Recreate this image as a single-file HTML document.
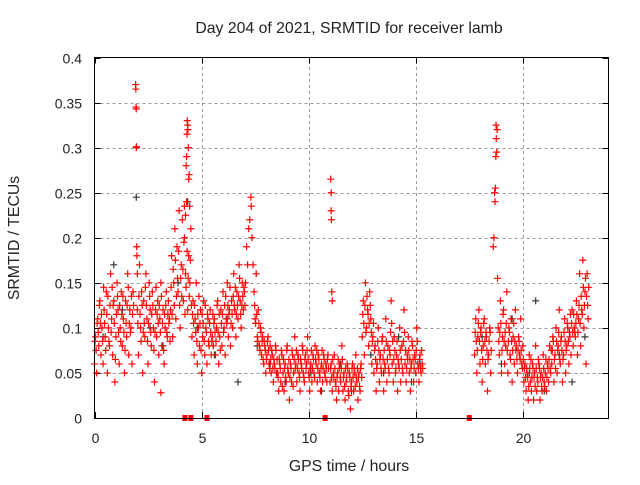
<!DOCTYPE html>
<html><head><meta charset="utf-8"><style>
html,body{margin:0;padding:0;background:#fff;}
svg text{font-family:"Liberation Sans",sans-serif;fill:#222;}
</style></head><body>
<svg id="chart" width="640" height="480">
<text x="349" y="33" font-size="15.8" text-anchor="middle">Day 204 of 2021, SRMTID for receiver lamb</text>
<text x="0" y="0" font-size="15.8" text-anchor="middle" transform="translate(19,238) rotate(-90)">SRMTID / TECUs</text>
<text x="349" y="471" font-size="15.8" text-anchor="middle">GPS time / hours</text>
<g id="grid"></g>
<g id="ticks"></g>
<g id="marks"></g>
<rect x="94.5" y="57.5" width="514" height="361" fill="none" stroke="#000" stroke-width="1"/>
</svg>
<script>
const xTicks=[0,5,10,15,20];
const yTicks=[0,0.05,0.1,0.15,0.2,0.25,0.3,0.35,0.4];
const yTickLabels=["0","0.05","0.1","0.15","0.2","0.25","0.3","0.35","0.4"];
const segStarts=[0,2.0,3.55,4.55,5.55,7.45,8.55,11.0,12.5,13.05,17.75,18.85,20.05,21.35,22.45];
const segValues=[
[.06,.09,.05,.11,.08,.13,.07,.10,.06,.12,.09,.14,.05,.10,.08,.16,.11,.07,.13,.04,.09,.15,.12,.06,.10,.14,.08,.11,.05,.13,.09,.16,.07,.12,.10,.06,.14],
[.12,.07,.17,.10,.14,.05,.13,.09,.16,.11,.06,.15,.12,.08,.14,.10,.04,.12,.09,.13,.07,.11,.15,.08,.12,.06,.10,.14,.09,.13,.11],
[.12,.18,.09,.15,.21,.11,.19,.14,.23,.10,.17,.22,.13,.20,.16,.24,.12,.18,.15,.21],
[.09,.13,.07,.11,.15,.06,.10,.08,.12,.05,.09,.13,.07,.10,.06,.11,.08,.12,.07,.09],
[.08,.11,.07,.10,.13,.06,.09,.12,.08,.14,.10,.07,.11,.15,.09,.12,.08,.13,.10,.16,.12,.09,.14,.11,.17,.13,.10,.15,.12,.14],
[.14,.11,.16,.09,.12,.08,.10,.07,.09,.06,.08,.05,.07,.09,.06,.08,.05,.07,.04,.06,.08,.05],
[.05,.03,.06,.04,.07,.05,.03,.06,.04,.08,.05,.02,.06,.04,.07,.05,.09,.06,.04,.07,.05,.03,.06,.08,.05,.04,.07,.06,.09,.05,.03,.06,.04,.07,.05,.08,.06,.04,.07,.05,.03,.06,.04,.07,.05,.06,.04,.07],
[.04,.06,.03,.05,.07,.04,.02,.05,.03,.06,.04,.08,.03,.05,.02,.04,.06,.03,.05,.01,.04,.06,.03,.05,.07,.04,.02,.05,.03,.06],
[.09,.13,.07,.15,.10,.12,.08,.14,.11,.06,.09],
[.05,.08,.03,.06,.10,.04,.07,.05,.09,.03,.06,.11,.04,.08,.05,.07,.13,.06,.04,.09,.05,.07,.03,.06,.10,.04,.08,.05,.12,.06,.04,.07,.09,.05,.03,.06,.08,.04,.07,.05,.10,.06,.04,.07,.05,.06],
[.07,.11,.05,.09,.12,.06,.10,.04,.08,.11,.06,.09,.03,.07,.10,.05],
[.10,.07,.13,.05,.09,.12,.06,.08,.14,.05,.10,.07,.11,.04,.09,.06,.12,.08,.05,.09,.07,.11,.06,.08],
[.04,.06,.03,.05,.02,.07,.04,.03,.06,.02,.05,.08,.03,.04,.06,.02,.05,.03,.07,.04,.05,.03,.06,.04,.08,.05],
[.06,.09,.04,.07,.10,.05,.08,.12,.06,.09,.04,.07,.11,.05,.08,.10,.06,.09,.07,.12,.08,.10],
[.09,.13,.07,.11,.16,.08,.12,.175,.10,.14,.06,.16,.11]
];
const segValues2=[
[.085,.075,.105,.095,.125,.105,.115,.085,.145,.105,.075,.115,.135,.085,.125,.095,.145,.125,.105,.065,.115,.135,.095,.125,.085,.115,.135,.095,.075,.105,.125,.145,.105,.095,.135,.115,.125],
[.105,.135,.115,.085,.125,.095,.105,.145,.125,.085,.105,.135,.095,.115,.125,.075,.095,.145,.115,.105,.125,.095,.135,.105,.075,.115,.125,.095,.115,.105,.085],
[.145,.115,.165,.125,.175,.135,.155,.185,.125,.155,.135,.165,.195,.115,.145,.185,.155,.135,.175,.125],
[.115,.105,.125,.095,.085,.115,.135,.105,.075,.115,.105,.085,.125,.095,.115,.085,.105,.095,.085,.115],
[.105,.095,.085,.125,.095,.115,.075,.105,.115,.095,.125,.135,.105,.125,.115,.145,.105,.115,.135,.125,.145,.115,.125,.135,.155,.115,.125,.135,.145,.125],
[.125,.105,.115,.085,.105,.075,.095,.085,.065,.085,.075,.065,.085,.075,.055,.065,.075,.055,.065,.055,.075,.065],
[.045,.065,.055,.075,.035,.065,.055,.045,.075,.055,.065,.045,.055,.075,.035,.065,.055,.075,.055,.065,.045,.065,.055,.075,.045,.065,.055,.075,.065,.045,.055,.075,.055,.065,.045,.065,.075,.055,.065,.045,.055,.075,.055,.065,.045,.055,.065,.055],
[.055,.045,.065,.045,.055,.035,.045,.065,.055,.045,.055,.065,.045,.035,.055,.045,.055,.025,.045,.035,.055,.045,.055,.035,.045,.055,.045,.035,.055,.045],
[.115,.105,.125,.095,.135,.115,.105,.125,.095,.085,.105],
[.075,.065,.055,.085,.075,.065,.055,.085,.065,.075,.055,.085,.065,.055,.075,.095,.105,.085,.065,.075,.055,.085,.065,.055,.075,.065,.055,.085,.095,.075,.055,.065,.075,.065,.055,.085,.065,.055,.065,.075,.085,.055,.065,.055,.075,.055],
[.095,.085,.075,.105,.085,.095,.075,.065,.105,.085,.095,.075,.065,.085,.095,.075],
[.085,.095,.105,.075,.115,.085,.095,.105,.075,.085,.095,.065,.085,.075,.105,.085,.075,.065,.075,.085,.065,.075,.055,.065],
[.055,.045,.055,.045,.035,.055,.065,.045,.055,.045,.035,.055,.045,.065,.055,.045,.035,.045,.055,.035,.065,.045,.055,.065,.055,.075],
[.075,.085,.065,.055,.085,.075,.095,.065,.085,.075,.065,.095,.085,.075,.105,.085,.095,.115,.105,.095,.115,.095],
[.105,.115,.095,.125,.105,.135,.115,.145,.125,.155,.135,.125,.145]
];
const sampleStep=0.05;
const spikeHours=[1.92,1.93,1.94,1.95,1.95,1.96,1.97,1.98,2.0,3.1,4.2,4.25,4.28,4.3,4.32,4.33,4.35,4.36,4.38,4.4,4.42,4.44,7.05,7.1,7.15,7.2,7.25,7.3,7.32,7.35,7.4,11.03,11.05,11.05,11.06,11.08,11.1,18.62,18.65,18.68,18.7,18.72,18.74,18.75,18.76,18.78,18.8,18.82];
const spikeValues=[.37,.365,.345,.343,.30,.301,.19,.18,.16,.028,.235,.225,.28,.29,.315,.33,.325,.32,.30,.265,.27,.235,.15,.19,.17,.21,.22,.245,.235,.20,.17,.265,.25,.23,.22,.14,.13,.19,.2,.25,.24,.255,.29,.325,.31,.295,.32,.155];
const blackHours=[0.4,0.9,1.3,1.95,2.6,3.2,3.9,4.35,4.8,5.6,6.2,6.7,7.6,8.2,8.9,9.5,10.1,10.6,11.5,12.0,12.9,13.5,14.2,14.8,15.2,18.1,19.0,19.5,20.3,20.6,21.0,21.7,22.3,22.9];
const blackValues=[.09,.17,.12,.245,.10,.08,.15,.24,.10,.07,.11,.04,.08,.06,.04,.07,.05,.03,.06,.03,.07,.05,.09,.04,.06,.09,.06,.11,.05,.13,.03,.07,.04,.09];
const zeroHours=[4.22,4.5,5.25,10.77,17.5];

const X0=94.5,X1=608.5,Y0=418,Y1=57.5,XMAX=24,YMAX=0.4;
function xs(h){return X0+(X1-X0)*h/XMAX;}
function ys(v){return Y0-(Y0-Y1)*v/YMAX;}
const NS="http://www.w3.org/2000/svg";
const grid=document.getElementById('grid'),ticks=document.getElementById('ticks'),marks=document.getElementById('marks');
function mk(tag,attrs,parent){const e=document.createElementNS(NS,tag);for(const k in attrs)e.setAttribute(k,attrs[k]);parent.appendChild(e);return e;}
xTicks.forEach(t=>{
  const x=Math.round(xs(t))+0.5;
  if(t>0){const g=mk('line',{x1:x,x2:x,y1:Y0,y2:Y1,stroke:'#999','stroke-dasharray':'3,3'},grid);
  
  }
  mk('line',{x1:x,x2:x,y1:Y0,y2:Y0-6,stroke:'#000'},ticks);
  mk('line',{x1:x,x2:x,y1:Y1,y2:Y1+6,stroke:'#000'},ticks);
  const l=mk('text',{x:x,y:443,'font-size':14,'text-anchor':'middle'},ticks);l.textContent=t;
  
  
});
yTicks.forEach((t,i)=>{
  const y=Math.round(ys(t))+0.5;
  if(t>0&&t<YMAX){const g=mk('line',{x1:X0,x2:X1,y1:y,y2:y,stroke:'#999','stroke-dasharray':'3,3'},grid);
  
  }
  mk('line',{x1:X0,x2:X0+6,y1:y,y2:y,stroke:'#000'},ticks);
  mk('line',{x1:X1,x2:X1-6,y1:y,y2:y,stroke:'#000'},ticks);
  const l=mk('text',{x:82,y:y+5,'font-size':14,'text-anchor':'end'},ticks);l.textContent=yTickLabels[i];
  
  
});
function plus(h,v,color){
  const x=xs(h),y=ys(v);
  const p=mk('path',{d:`M${x-3.5},${y}H${x+3.5}M${x},${y-3.5}V${y+3.5}`,stroke:color,'stroke-width':1.2,fill:'none'},marks);
  
  
}
blackHours.forEach((h,i)=>plus(h,blackValues[i],'#333'));
segStarts.forEach((s,j)=>segValues[j].forEach((v,i)=>plus(s+i*sampleStep,v,'#f00')));
segStarts.forEach((s,j)=>segValues2[j].forEach((v,i)=>plus(s+0.025+i*sampleStep,v,'#f00')));
spikeHours.forEach((h,i)=>plus(h,spikeValues[i],'#f00'));
zeroHours.forEach(h=>{
  const r=mk('rect',{x:xs(h)-2.5,y:Y0-3,width:5,height:6,fill:'#f00'},marks);
  
  
});
</script>
</body></html>
